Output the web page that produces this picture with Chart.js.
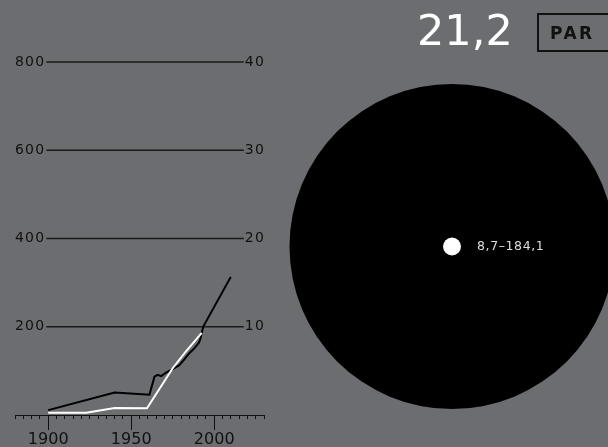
<!DOCTYPE html>
<html>
<head>
<meta charset="utf-8">
<script src="https://cdn.jsdelivr.net/npm/chart.js@4/dist/chart.umd.min.js"></script>
<style>
  html, body { margin: 0; padding: 0; width: 608px; height: 447px; overflow: hidden; background: #6c6d71; font-family: "DejaVu Sans", sans-serif; }
  #lineChart { position: absolute; left: 0; top: 0; }
  #circleChart { position: absolute; left: 252px; top: 46px; }
  #ratio { position: absolute; left: 417px; top: 9px; font-size: 43px; line-height: 43px; color: #fff; font-weight: 400; }
  #tag { position: absolute; left: 537px; top: 13px; width: 100px; height: 39px; box-sizing: border-box; border: 2px solid #111; }
  #tag span { position: absolute; left: 11px; top: 10px; font-size: 17px; line-height: 16px; font-weight: bold; color: #111; letter-spacing: 2.5px; }
  #range { position: absolute; left: 477px; top: 240px; font-size: 12.5px; line-height: 12px; color: #ddd; letter-spacing: 0.6px; }
</style>
</head>
<body>
<canvas id="lineChart" width="280" height="447"></canvas>
<canvas id="circleChart" width="400" height="401"></canvas>
<div id="ratio">21,2</div>
<div id="tag"><span>PAR</span></div>
<div id="range">8,7–184,1</div>
<script>
// black series, left axis
const blackYears = [1900, 1940, 1961, 1964, 1966, 1968, 1971, 1975, 1979, 1982, 1985, 1988, 1990.5, 1991.5, 1992.6, 1993.5, 2010];
const blackValues = [11, 51, 46, 87, 91, 88, 96, 104, 113, 126, 140, 151, 162, 170, 188, 201, 313];
// white series, right axis
const whiteYears = [1900, 1923, 1940, 1959.5, 1975, 1982.5, 1992.5];
const whiteValues = [0.26, 0.26, 0.8, 0.76, 5.3, 7.1, 9.3];

const leftTicks = [200, 400, 600, 800];
const rightTicks = [10, 20, 30, 40];
const xLabelYears = [1900, 1950, 2000];

// circle: range max and min
const rangeMax = 184.1;
const rangeMin = 8.7;
const bigRadius = 162.5;
const dotRadius = 9;

const FONT = '"DejaVu Sans", sans-serif';
Chart.defaults.font.family = FONT;

const axisMarks = {
  id: 'axisMarks',
  beforeDatasetsDraw(chart) {
    const { ctx, chartArea, scales } = chart;
    ctx.save();
    ctx.font = '14px ' + FONT;
    ctx.letterSpacing = '1.2px';
    ctx.fillStyle = '#111';
    ctx.strokeStyle = '#1a1a1a';
    ctx.lineWidth = 1.3;
    ctx.textBaseline = 'middle';
    leftTicks.forEach((v, i) => {
      const py = scales.y.getPixelForValue(v);
      const l = String(v);
      const r = String(rightTicks[i]);
      const wl = ctx.measureText(l).width;
      const wr = ctx.measureText(r).width;
      ctx.textAlign = 'left';
      ctx.fillText(l, chartArea.left, py);
      ctx.textAlign = 'right';
      ctx.fillText(r, chartArea.right + 1, py);
      ctx.beginPath();
      ctx.moveTo(chartArea.left + wl + 1, py);
      ctx.lineTo(chartArea.right - wr, py);
      ctx.stroke();
    });
    ctx.restore();
  },
  afterDraw(chart) {
    const { ctx, chartArea, scales } = chart;
    ctx.save();
    ctx.strokeStyle = '#111';
    ctx.lineWidth = 1;
    xLabelYears.forEach(yr => {
      const px = Math.round(scales.x.getPixelForValue(yr)) + 0.5;
      ctx.beginPath();
      ctx.moveTo(px, chartArea.bottom);
      ctx.lineTo(px, chartArea.bottom + 15);
      ctx.stroke();
    });
    ctx.restore();
  }
};

new Chart(document.getElementById('lineChart'), {
  type: 'line',
  data: {
    datasets: [
      {
        label: 'white',
        data: whiteYears.map((x, i) => ({ x, y: whiteValues[i] })),
        borderColor: '#fff',
        borderWidth: 2,
        pointRadius: 0,
        tension: 0,
        yAxisID: 'y1',
      },
      {
        label: 'black',
        data: blackYears.map((x, i) => ({ x, y: blackValues[i] })),
        borderColor: '#000',
        borderWidth: 2,
        pointRadius: 0,
        tension: 0,
        yAxisID: 'y',
      },
    ],
  },
  options: {
    responsive: false,
    animation: false,
    events: [],
    layout: { padding: { left: 15, right: 16, top: 62, bottom: 0 } },
    plugins: { legend: { display: false }, tooltip: { enabled: false } },
    scales: {
      x: {
        type: 'linear',
        min: 1880,
        max: 2030,
        afterFit: s => { s.height = 32; },
        grid: { drawOnChartArea: false, tickLength: 4, color: '#111', lineWidth: 1 },
        border: { color: '#111', width: 1 },
        ticks: {
          stepSize: 5,
          autoSkip: false,
          maxRotation: 0,
          padding: 11,
          color: '#111',
          font: { size: 16 },
          callback: v => (xLabelYears.includes(v) ? String(v) : ''),
        },
      },
      y: {
        position: 'left',
        min: 0,
        max: 800,
        ticks: { display: false, stepSize: 200 },
        grid: { display: false },
        border: { display: false },
        afterFit: s => { s.width = 0; },
      },
      y1: {
        position: 'right',
        min: 0,
        max: 40,
        ticks: { display: false, stepSize: 10 },
        grid: { display: false },
        border: { display: false },
        afterFit: s => { s.width = 0; },
      },
    },
  },
  plugins: [axisMarks],
});

new Chart(document.getElementById('circleChart'), {
  type: 'bubble',
  data: {
    datasets: [
      { label: 'min', data: [{ x: 1, y: 1, r: dotRadius, v: rangeMin }], backgroundColor: '#fff', borderWidth: 0, clip: false },
      { label: 'max', data: [{ x: 1, y: 1, r: bigRadius, v: rangeMax }], backgroundColor: '#000', borderWidth: 0, clip: false },
    ],
  },
  options: {
    responsive: false,
    animation: false,
    events: [],
    layout: { padding: 0 },
    plugins: { legend: { display: false }, tooltip: { enabled: false } },
    scales: {
      x: { display: false, min: 0, max: 2 },
      y: { display: false, min: 0, max: 2 },
    },
  },
});
</script>
</body>
</html>
